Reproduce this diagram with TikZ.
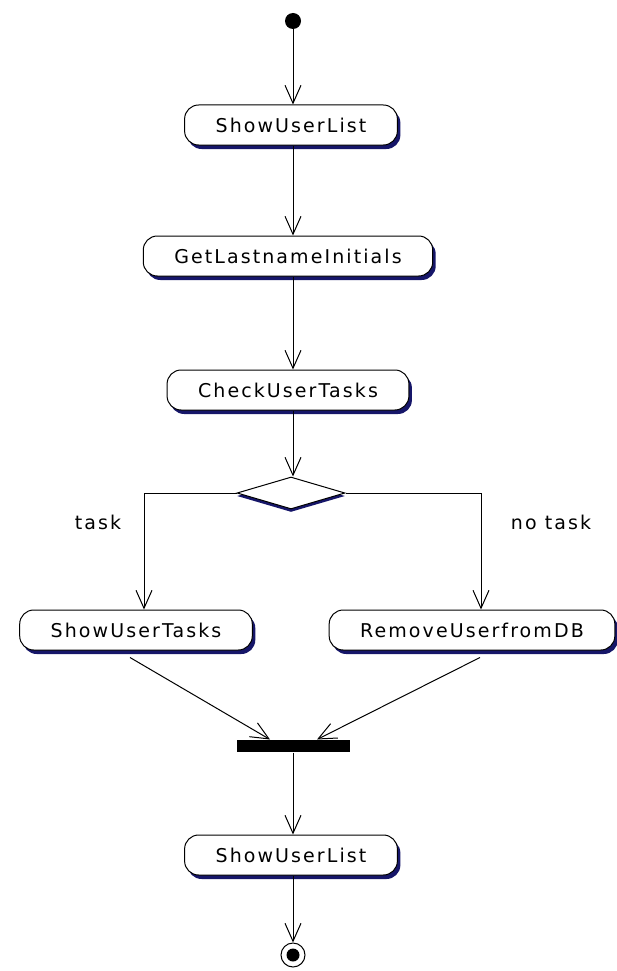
\documentclass[tikz,border=0pt]{standalone}
\usepackage{fontspec}
\setmainfont{DejaVu Sans}[LetterSpace=11]
\usetikzlibrary{arrows.meta,shapes.geometric,shadows}
\definecolor{umlnavy}{RGB}{22,22,105}
\begin{document}
\begin{tikzpicture}[x=1pt,y=-1pt,
  line width=1pt,
  flow/.style={-{Straight Barb[length=18pt,width=16pt]}},
  activity/.style={rectangle, rounded corners=14pt, draw, fill=white, minimum height=40pt, inner xsep=31pt,
    font=\fontsize{19}{22}\selectfont,
    drop shadow={fill=umlnavy, opacity=1, shadow xshift=3pt, shadow yshift=-4pt}},
  guard/.style={font=\fontsize{19}{22}\selectfont}]
\useasboundingbox (0,0) rectangle (617,971);
\node[circle, fill, minimum size=16pt, inner sep=0pt] (init) at (293,21){};
\node[activity] (list1) at (291,125){ShowUserList};
\node[activity] (initials) at (288,256){GetLastnameInitials};
\node[activity] (check) at (288,390){CheckUserTasks};
\node[diamond, draw, fill=white, minimum width=108pt, minimum height=32pt, inner sep=0pt,
  drop shadow={fill=umlnavy, opacity=1, shadow xshift=0pt, shadow yshift=-3pt}] (choice) at (291,493){};
\node[activity] (tasks) at (136,630){ShowUserTasks};
\node[activity] (remove) at (472,630){RemoveUserfromDB};
\node[rectangle, fill, minimum width=113pt, minimum height=12pt, inner sep=0pt] (join) at (293,746){};
\node[activity] (list2) at (291,855){ShowUserList};
\node[circle, draw, minimum size=24pt, inner sep=0pt] (final) at (293,955){};
\node[circle, fill, minimum size=13pt, inner sep=0pt] (finaldot) at (final.center){};
\node[guard] (tasklbl) at (98,522){task};
\node[guard] (notasklbl) at (551,522){no task};
\draw[flow](init) -- (init |- list1.north);
\draw[flow](init |- list1.south) -- (init |- initials.north);
\draw[flow](init |- initials.south) -- (init |- check.north);
\draw[flow](init |- check.south) -- (init |- choice.north);
\draw[flow](choice.west) -| ([xshift=8pt]tasks.north);
\draw[flow](choice.east) -| ([xshift=9pt]remove.north);
\draw[flow]([xshift=-6pt,yshift=-7pt]tasks.south) -- ([xshift=-23pt]join.north);
\draw[flow]([xshift=8pt,yshift=-7pt]remove.south) -- ([xshift=24pt]join.north);
\draw[flow](join.south) -- (join.south |- list2.north);
\draw[flow](join.south |- list2.south) -- (final.north);
\end{tikzpicture}
\end{document}
